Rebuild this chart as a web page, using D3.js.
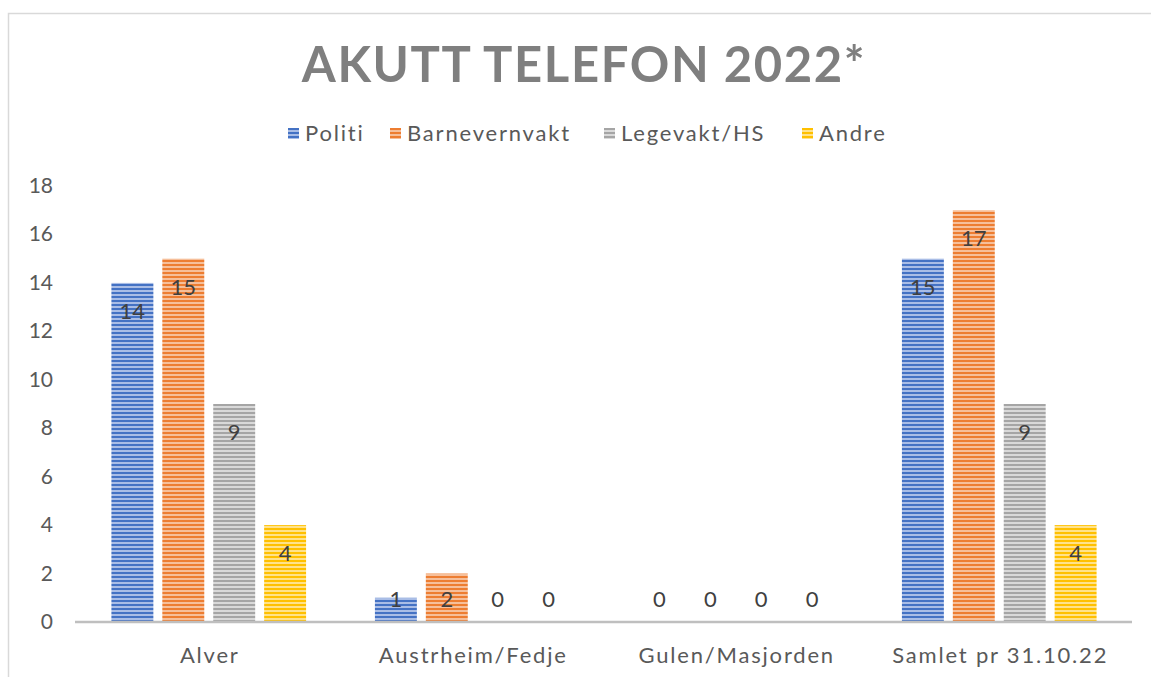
<!DOCTYPE html>
<html><head><meta charset="utf-8">
<script src="https://cdn.jsdelivr.net/npm/d3@7"></script>
<style>body{margin:0;background:#fff}svg{display:block}text{font-family:"Lato","Noto Sans",sans-serif}</style>
</head><body><svg id="c" width="1151" height="677"></svg>
<script>
const categories = ["Alver","Austrheim/Fedje","Gulen/Masjorden","Samlet pr 31.10.22"];
const seriesNames = ["Politi","Barnevernvakt","Legevakt/HS","Andre"];
const politi = [14,1,0,15];
const barnevernvakt = [15,2,0,17];
const legevakt = [9,0,0,9];
const andre = [4,0,0,4];
const yTicks = [0,2,4,6,8,10,12,14,16,18];
const colors = ["#4472c4","#ed7d31","#a5a5a5","#ffc000"];
const lightColors = ["#a9bde6","#f6bf9a","#d9d9d9","#ffe28a"];
const values = [politi, barnevernvakt, legevakt, andre];

const svg = d3.select("#c");
const defs = svg.append("defs");
colors.forEach((c,i)=>{
  const p = defs.append("pattern").attr("id","pat"+i).attr("patternUnits","userSpaceOnUse")
    .attr("width",8).attr("height",4);
  p.append("rect").attr("width",8).attr("height",4).attr("fill",lightColors[i]);
  p.append("rect").attr("width",8).attr("height",2).attr("fill",c);
});

// border
svg.append("path").attr("d","M8.5,677 V13.5 H1151").attr("fill","none").attr("stroke","#d9d9d9").attr("stroke-width",1.5);

const x0 = d3.scaleBand().domain(categories).range([77,1131]);
const x1 = d3.scaleBand().domain(seriesNames).range([0,x0.bandwidth()]).paddingInner(0.176).paddingOuter(0.676);
const y = d3.scaleLinear().domain([0,18]).range([622,186]);

// title
svg.append("text").attr("x",584).attr("y",82).attr("text-anchor","middle")
  .attr("font-size",49).attr("font-weight","bold").attr("fill","#7f7f7f").attr("letter-spacing",1.6)
  .text("AKUTT TELEFON 2022*");

// legend
const legX = [288,390,604,802];
seriesNames.forEach((s,i)=>{
  svg.append("rect").attr("x",legX[i]).attr("y",128).attr("width",11).attr("height",11).attr("fill","url(#pat"+i+")");
  svg.append("text").attr("x",legX[i]+17).attr("y",141).attr("font-size",22).attr("letter-spacing",1.8).attr("fill","#595959").text(s);
});

// y axis labels
svg.append("g").selectAll("text").data(yTicks).join("text")
  .attr("x",53).attr("y",d=>y(d)+7).attr("text-anchor","end").attr("font-size",21).attr("fill","#595959").text(d=>d);

// bars
seriesNames.forEach((s,i)=>{
  const g = svg.append("g");
  g.selectAll("rect").data(categories).join("rect")
    .attr("x",c=>x0(c)+x1(s)).attr("width",x1.bandwidth())
    .attr("y",(c,j)=>y(values[i][j])).attr("height",(c,j)=>y(0)-y(values[i][j]))
    .attr("fill","url(#pat"+i+")");
  g.selectAll("text").data(categories).join("text")
    .attr("x",c=>x0(c)+x1(s)+x1.bandwidth()/2)
    .attr("y",(c,j)=>Math.min(y(values[i][j])+36, y(0)-15))
    .attr("text-anchor","middle").attr("font-size",22).attr("fill","#404040")
    .text((c,j)=>values[i][j]);
});

// baseline
svg.append("line").attr("x1",75).attr("x2",1132).attr("y1",622).attr("y2",622).attr("stroke","#bfbfbf").attr("stroke-width",2.5);

// x labels
svg.append("g").selectAll("text").data(categories).join("text")
  .attr("x",c=>x0(c)+x0.bandwidth()/2+1).attr("y",663).attr("text-anchor","middle")
  .attr("font-size",22).attr("letter-spacing",1.8).attr("fill","#595959").text(c=>c);
</script></body></html>
